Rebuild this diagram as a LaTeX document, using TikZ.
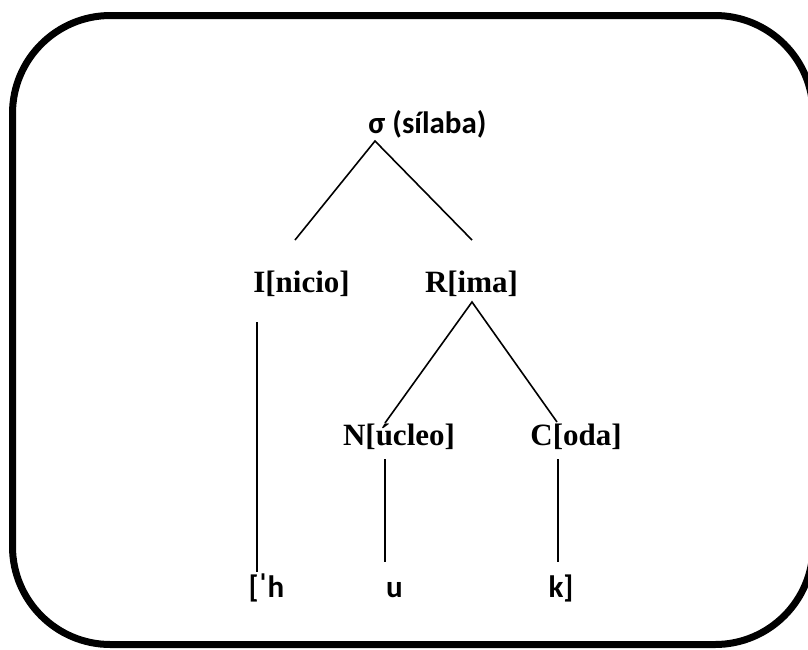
\documentclass[tikz,border=0pt]{standalone}
\usepackage{fontspec}
\newfontfamily\labelsans{Carlito}
\newfontfamily\labelserif{Liberation Serif}
\begin{document}
\begin{tikzpicture}[x=1pt,y=-1pt,
  sanslabel/.style={anchor=base, inner sep=0pt,
    font=\labelsans\bfseries\fontsize{31}{37}\selectfont},
  seriflabel/.style={anchor=base, inner sep=0pt,
    font=\labelserif\bfseries\fontsize{31}{37}\selectfont},
  branch/.style={line width=1.6pt},
  frame/.style={line width=7pt, line join=round}]
\useasboundingbox (0,0) rectangle (808,649);

% rounded outer frame (its right side runs just past the page edge)
\draw[frame] (110.5,15.5) -- (715,15.5)
  .. controls (769.1,15.5) and (813,59.4) .. (813,113.5)
  -- (813,546.5)
  .. controls (813,600.6) and (769.1,644.5) .. (715,644.5)
  -- (110.5,644.5)
  .. controls (56.4,644.5) and (12.5,600.6) .. (12.5,546.5)
  -- (12.5,113.5)
  .. controls (12.5,59.4) and (56.4,15.5) .. (110.5,15.5) -- cycle;

% tree labels
\node[sanslabel]  (syl)   at (427.5,133) {σ (sílaba)};
\node[seriflabel] (onset) at (301.5,292) {I[nicio]};
\node[seriflabel] (rime)  at (471.5,292) {R[ima]};
\node[seriflabel] (nuc)   at (399,445)   {N[úcleo]};
\node[seriflabel] (coda)  at (576,445)   {C[oda]};
\node[sanslabel]  (segh)  at (266.5,597) {[ˈh};
\node[sanslabel]  (segu)  at (394.5,597) {u};
\node[sanslabel]  (segk)  at (561,597)   {k]};

% branch end points
\coordinate (sylFoot)   at (375,141);
\coordinate (onsetTop)  at (295,240);
\coordinate (rimeTop)   at (472,240);
\coordinate (rimeFoot)  at (472,302);
\coordinate (nucTop)    at (385,423);
\coordinate (codaTop)   at (557,422);
\coordinate (onsetFoot) at (257,322);
\coordinate (hTop)      at (257,572);
\coordinate (nucFoot)   at (385,459);
\coordinate (uTop)      at (385,562);
\coordinate (codaFoot)  at (558,459);
\coordinate (kTop)      at (558,562);

% branches
\draw[branch] (onsetTop) -- (sylFoot) -- (rimeTop);
\draw[branch] (nucTop) -- (rimeFoot) -- (codaTop);
\draw[branch] (onsetFoot) -- (hTop);
\draw[branch] (nucFoot) -- (uTop);
\draw[branch] (codaFoot) -- (kTop);
\end{tikzpicture}
\end{document}
